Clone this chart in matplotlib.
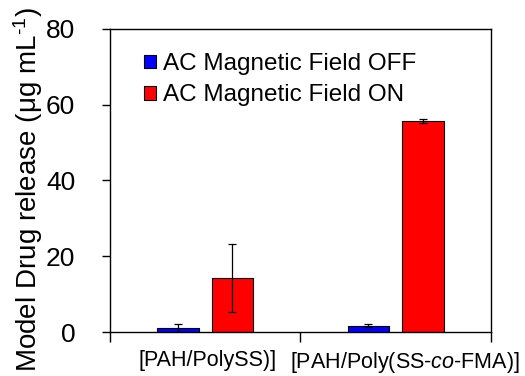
import matplotlib
matplotlib.use("Agg")
import matplotlib.pyplot as plt
import matplotlib.transforms as mtransforms
import numpy as np

categories = ["[PAH/PolySS)]", "[PAH/Poly(SS-$\\mathit{co}$-FMA)]"]
series_names = ["AC Magnetic Field OFF", "AC Magnetic Field ON"]
off_vals = [1.0, 1.7]
off_err = [1.0, 0.5]
on_vals = [14.3, 55.7]
on_err = [8.9, 0.5]
yticks = [0, 20, 40, 60, 80]

plt.rcParams['font.family'] = ['Liberation Sans', 'DejaVu Sans']
plt.rcParams['mathtext.fontset'] = 'custom'
plt.rcParams['mathtext.rm'] = 'Liberation Sans'
plt.rcParams['mathtext.it'] = 'Liberation Sans:italic'

fig = plt.figure(figsize=(5.25, 3.76), dpi=100)
ax = fig.add_axes([0.2095, 0.117, 0.7257, 0.806])

centers = np.arange(len(categories)) + 0.5
w = 0.22
off_pos = centers - 0.143
on_pos = centers + 0.143
ax.bar(off_pos, off_vals, w, color='#0000ff', edgecolor='black', linewidth=0.8,
       yerr=off_err, error_kw=dict(ecolor='black', elinewidth=0.9, capsize=3, capthick=0.9),
       label=series_names[0], zorder=2)
ax.bar(on_pos, on_vals, w, color='#ff0000', edgecolor='black', linewidth=0.8,
       yerr=on_err, error_kw=dict(ecolor='black', elinewidth=0.9, capsize=3, capthick=0.9),
       label=series_names[1], zorder=2)

ax.set_xlim(0, 2)
ax.set_ylim(0, 80)
ax.set_yticks(yticks)
ax.set_yticklabels([str(v) for v in yticks], fontsize=19)
ax.set_xticks([0, 1, 2])
ax.set_xticklabels([])
ax.set_xticks(centers, minor=True)
ax.set_xticklabels(categories, minor=True, fontsize=15.5)
ax.tick_params(axis='x', which='minor', length=0, pad=13)
ax.tick_params(axis='x', which='major', direction='out', length=7, width=1)
ax.tick_params(axis='y', direction='out', length=6, width=1, pad=19)
for s in ax.spines.values():
    s.set_linewidth(1.0)
# slight horizontal shifts of category labels as in the reference
for lab, dx in zip(ax.get_xticklabels(minor=True), [2, 9]):
    lab.set_transform(lab.get_transform() + mtransforms.ScaledTranslation(dx / 100, 0, fig.dpi_scale_trans))

ax.set_ylabel("Model Drug release (μg mL$^{\\text{-1}}$)", fontsize=20)
ax.yaxis.set_label_coords(-0.17, 0.47)

leg = ax.legend(loc='upper left', bbox_to_anchor=(0.088, 0.92), frameon=False, fontsize=17.5,
                handlelength=0.5, handleheight=0.5, handletextpad=0.3, labelspacing=0.38,
                borderaxespad=0, borderpad=0)

fig.savefig("out.png", dpi=100)
